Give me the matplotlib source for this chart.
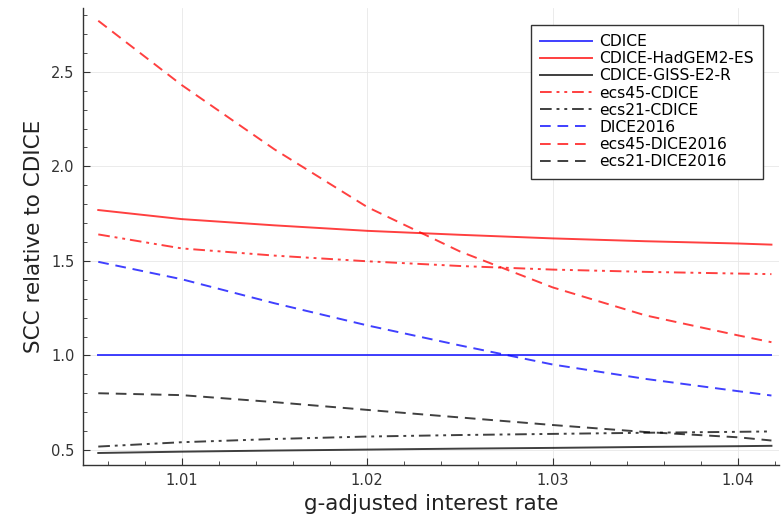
import matplotlib
matplotlib.use("Agg")
import matplotlib.pyplot as plt
from matplotlib.ticker import MultipleLocator, FormatStrFormatter

plt.rcParams["font.family"] = ["DejaVu Sans"]

rate = [1.0055, 1.01, 1.015, 1.02, 1.025, 1.03, 1.035, 1.04, 1.0418]

cdice = [1.0, 1.0, 1.0, 1.0, 1.0, 1.0, 1.0, 1.0, 1.0]
cdice_hadgem = [1.769, 1.721, 1.688, 1.659, 1.638, 1.619, 1.604, 1.592, 1.586]
cdice_giss = [0.484, 0.491, 0.497, 0.502, 0.507, 0.511, 0.516, 0.520, 0.522]
ecs45_cdice = [1.640, 1.566, 1.528, 1.498, 1.473, 1.454, 1.442, 1.433, 1.430]
ecs21_cdice = [0.518, 0.541, 0.558, 0.571, 0.579, 0.585, 0.591, 0.596, 0.598]
dice2016 = [1.495, 1.403, 1.276, 1.159, 1.053, 0.952, 0.876, 0.811, 0.788]
ecs45_dice2016 = [2.770, 2.430, 2.090, 1.785, 1.550, 1.360, 1.212, 1.106, 1.070]
ecs21_dice2016 = [0.800, 0.790, 0.753, 0.712, 0.672, 0.632, 0.595, 0.567, 0.550]

dashdotdot = (0, (6, 2.5, 1.5, 2.5, 1.5, 2.5))
dashed = (0, (5.5, 3.5))
series = [
    ("CDICE", cdice, "blue", "-"),
    ("CDICE-HadGEM2-ES", cdice_hadgem, "red", "-"),
    ("CDICE-GISS-E2-R", cdice_giss, "black", "-"),
    ("ecs45-CDICE", ecs45_cdice, "red", dashdotdot),
    ("ecs21-CDICE", ecs21_cdice, "black", dashdotdot),
    ("DICE2016", dice2016, "blue", dashed),
    ("ecs45-DICE2016", ecs45_dice2016, "red", dashed),
    ("ecs21-DICE2016", ecs21_dice2016, "black", dashed),
]

fig = plt.figure(figsize=(7.81, 5.22), dpi=100)
ax = fig.add_axes([0.1059, 0.1092, 0.8916, 0.876])

for name, vals, col, ls in series:
    ax.plot(rate, vals, color=col, linestyle=ls, linewidth=1.4, alpha=0.75, label=name)

ax.set_xlim(1.004661, 1.04221)
ax.set_ylim(0.4205, 2.839)

ax.xaxis.set_major_locator(MultipleLocator(0.01))
ax.xaxis.set_minor_locator(MultipleLocator(0.002))
ax.yaxis.set_major_locator(MultipleLocator(0.5))
ax.yaxis.set_minor_locator(MultipleLocator(0.1))
ax.xaxis.set_major_formatter(FormatStrFormatter("%.2f"))
ax.yaxis.set_major_formatter(FormatStrFormatter("%.1f"))

ax.grid(True, which="major", color="#e8e8e8", linewidth=0.6)
ax.set_axisbelow(True)
for s in ["top", "right"]:
    ax.spines[s].set_visible(False)
for s in ["left", "bottom"]:
    ax.spines[s].set_color("#333333")
    ax.spines[s].set_linewidth(1.0)

ax.tick_params(which="major", direction="in", length=5, width=0.8, colors="#333333",
               labelsize=10.5, labelcolor="#333333", pad=6)
ax.tick_params(which="minor", direction="in", length=3, width=0.6, colors="#333333")

ax.set_xlabel("g-adjusted interest rate", fontsize=15.5, color="#222222", labelpad=4)
ax.set_ylabel("SCC relative to CDICE", fontsize=15.5, color="#222222", labelpad=5)

leg = ax.legend(loc="upper right", bbox_to_anchor=(0.9885, 0.98), fontsize=11.2,
                fancybox=False, framealpha=1, edgecolor="#333333",
                handlelength=3.3, labelspacing=0.14, borderpad=0.6, handletextpad=0.5)
leg.get_frame().set_linewidth(1.0)

fig.savefig("out.png", dpi=100)
